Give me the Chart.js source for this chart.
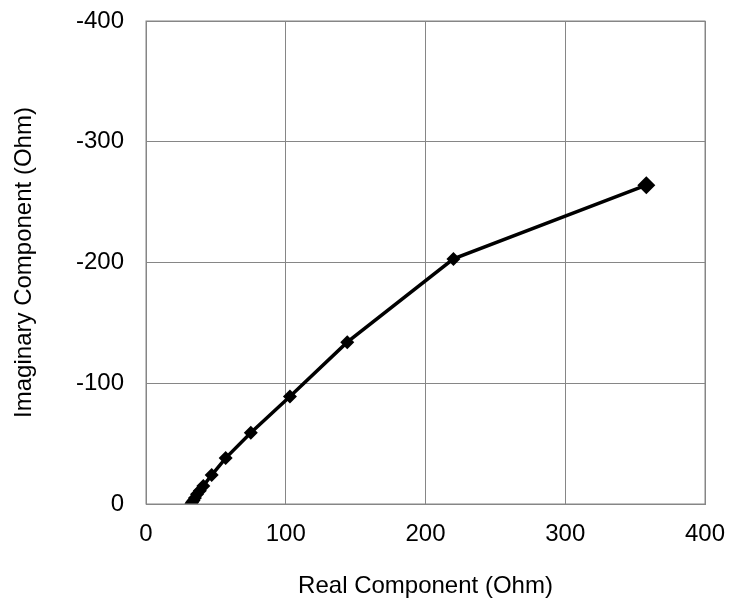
<!DOCTYPE html>
<html>
<head>
<meta charset="utf-8">
<script src="https://cdn.jsdelivr.net/npm/chart.js@4"></script>
<style>
  html,body{margin:0;padding:0;background:#fff;}
  #wrap{width:729px;height:603px;}
</style>
</head>
<body>
<div id="wrap"><canvas id="nyquist"></canvas></div>
<script>
// impedance readings
const realOhm = [32.5, 33, 34, 35, 36.5, 38.5, 41, 47, 57, 75, 103, 144, 220, 358];
const imagOhm = [-0.5, -1.5, -3, -5, -8, -11, -15, -24, -38, -59, -89, -134, -203, -264];
const xTicks = [0, 100, 200, 300, 400];
const yTicks = [0, -100, -200, -300, -400];

const pts = realOhm.map((x,i)=>({x, y: imagOhm[i]}));
const font = 'Liberation Sans, Arial, sans-serif';
const gridCol = '#868686';

new Chart(document.getElementById('nyquist'), {
  type:'scatter',
  data:{ datasets:[{
    data: pts,
    showLine:true,
    borderColor:'#000', backgroundColor:'#000',
    borderWidth:3.5,
    pointStyle:'rectRot',
    pointRadius:(c)=> c.dataIndex===pts.length-1 ? 9 : 7,
    pointBorderWidth:0,
    tension:0
  }]},
  options:{
    responsive:true, maintainAspectRatio:false, animation:false,
    layout:{ padding:{ top:21, right:24, bottom:0, left:0 } },
    plugins:{ legend:{display:false}, tooltip:{enabled:false} },
    scales:{
      x:{
        type:'linear', min:0, max:400,
        afterBuildTicks:(s)=>{ s.ticks = xTicks.map(v=>({value:v})); },
        afterFit:(s)=>{ s.height = 99; s.paddingLeft = 0; s.paddingRight = 0; },
        grid:{ color:gridCol, lineWidth:1, drawTicks:false },
        border:{ color:gridCol, width:1 },
        ticks:{ padding:16, color:'#000', font:{family:font, size:24} },
        title:{ display:true, text:'Real Component (Ohm)', color:'#000',
                font:{family:font, size:24}, padding:{top:0, bottom:2} }
      },
      y:{
        type:'linear', min:-400, max:0, reverse:true,
        afterBuildTicks:(s)=>{ s.ticks = yTicks.map(v=>({value:v})); },
        afterFit:(s)=>{ s.width = 146; s.paddingTop = 0; s.paddingBottom = 0; },
        grid:{ color:gridCol, lineWidth:1, drawTicks:false },
        border:{ color:gridCol, width:1 },
        ticks:{ padding:22, color:'#000', font:{family:font, size:24} },
        title:{ display:true, text:'Imaginary Component (Ohm)', color:'#000',
                font:{family:font, size:24}, padding:{top:10, bottom:0} }
      }
    }
  },
  plugins:[{
    // right and top edges of the plot frame
    id:'frame',
    afterDraw(chart){
      const {ctx, chartArea:a} = chart;
      ctx.save();
      ctx.strokeStyle = gridCol; ctx.lineWidth = 1;
      ctx.strokeRect(a.left, a.top, a.right-a.left, a.bottom-a.top);
      ctx.restore();
    }
  }]
});
</script>
</body>
</html>
